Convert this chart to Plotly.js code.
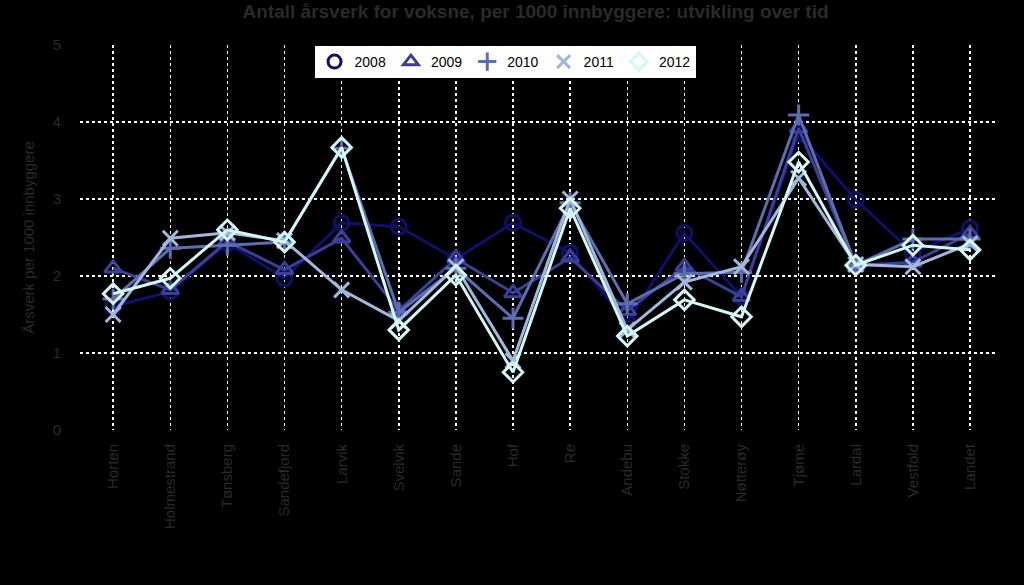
<!DOCTYPE html>
<html>
<head>
<meta charset="utf-8">
<script src="https://cdn.plot.ly/plotly-3.0.1.min.js"></script>
<style>
  html, body { margin: 0; padding: 0; background: #000; }
  #chart { width: 1024px; height: 585px; }
</style>
</head>
<body>
<div id="chart"></div>
<script>
// Kommuner (x-akse)
const kommuner = ['Horten', 'Holmestrand', 'Tønsberg', 'Sandefjord', 'Larvik', 'Svelvik', 'Sande', 'Hof',
                  'Re', 'Andebu', 'Stokke', 'Nøtterøy', 'Tjøme', 'Lardal', 'Vestfold', 'Landet'];

// Årsverk per 1000 innbyggere
const aar2008 = [1.60, 1.80, 2.43, 1.97, 2.69, 2.64, 2.22, 2.69, 2.30, 1.40, 2.56, 1.73, 3.85, 2.99, 2.30, 2.62];
const aar2009 = [2.10, 1.82, 2.45, 2.08, 2.49, 1.55, 2.23, 1.78, 2.24, 1.55, 2.12, 1.73, 3.92, 2.14, 2.18, 2.55];
const aar2010 = [1.70, 2.36, 2.40, 2.44, 3.66, 1.53, 2.10, 1.45, 2.95, 1.64, 2.03, 2.05, 4.09, 2.14, 2.48, 2.48];
const aar2011 = [1.50, 2.49, 2.56, 2.46, 1.82, 1.42, 2.12, 0.90, 3.00, 1.30, 1.92, 2.12, 3.27, 2.15, 2.12, 2.42];
const aar2012 = [1.77, 1.97, 2.60, 2.44, 3.67, 1.30, 2.01, 0.75, 2.88, 1.22, 1.69, 1.47, 3.48, 2.14, 2.40, 2.34];

const serier = [
    { name: '2008', y: aar2008, color: '#10106a', symbol: 'circle-open' },
    { name: '2009', y: aar2009, color: '#3a3f98', symbol: 'triangle-up-open' },
    { name: '2010', y: aar2010, color: '#5d6db2', symbol: 'cross-thin-open' },
    { name: '2011', y: aar2011, color: '#a0b8dc', symbol: 'x-thin-open' },
    { name: '2012', y: aar2012, color: '#d4f7f7', symbol: 'diamond-open' }
];

const textColor = '#2a2a2a';
const font = 'Arial, Liberation Sans';

// linjer med markører (uten egen legendoppføring)
const traces = serier.map(s => ({
    x: kommuner,
    y: s.y,
    name: s.name,
    type: 'scatter',
    mode: 'lines+markers',
    showlegend: false,
    line: { color: s.color, width: 3 },
    marker: { symbol: s.symbol, size: 15, color: s.color, line: { color: s.color, width: 3 } }
}));

// legenden viser bare symbolet, slik som i originalen
const legendTraces = serier.map(s => ({
    x: [null],
    y: [null],
    name: s.name,
    type: 'scatter',
    mode: 'markers',
    marker: { symbol: s.symbol, size: 13, color: s.color, line: { color: s.color, width: 3 } }
}));

const layout = {
    width: 1024,
    height: 585,
    paper_bgcolor: '#000',
    plot_bgcolor: '#000',
    margin: { l: 80, r: 26, t: 45, b: 155 },
    title: {
        text: '<b>Antall årsverk for voksne, per 1000 innbyggere: utvikling over tid</b>',
        font: { family: font, size: 19, color: textColor },
        x: 0.523, xanchor: 'center', y: 0.992, yanchor: 'top'
    },
    xaxis: {
        type: 'category',
        range: [-0.58, 15.49],
        tickangle: -90,
        tickfont: { family: font, size: 15, color: textColor },
        ticklabelstandoff: 10,
        showgrid: true,
        gridcolor: '#ffffff',
        griddash: 'dot',
        gridwidth: 1.5,
        zeroline: false,
        showline: false,
        ticks: ''
    },
    yaxis: {
        range: [0, 5],
        dtick: 1,
        tickfont: { family: font, size: 15, color: textColor },
        title: { text: 'Årsverk per 1000 innbyggere', font: { family: font, size: 15, color: textColor }, standoff: 14 },
        showgrid: true,
        gridcolor: '#ffffff',
        griddash: 'dot',
        gridwidth: 1.5,
        zeroline: false,
        showline: false,
        ticks: '',
        ticklabelstandoff: 18
    },
    legend: {
        orientation: 'h',
        x: 0.463, xanchor: 'center',
        y: 1.0, yanchor: 'top',
        bgcolor: '#ffffff',
        bordercolor: '#000000',
        borderwidth: 1,
        font: { family: font, size: 14, color: '#000' },
        itemwidth: 30,
        tracegroupgap: 0
    },
    showlegend: true
};

Plotly.newPlot('chart', traces.concat(legendTraces), layout, { displayModeBar: false, staticPlot: true });
</script>
</body>
</html>
